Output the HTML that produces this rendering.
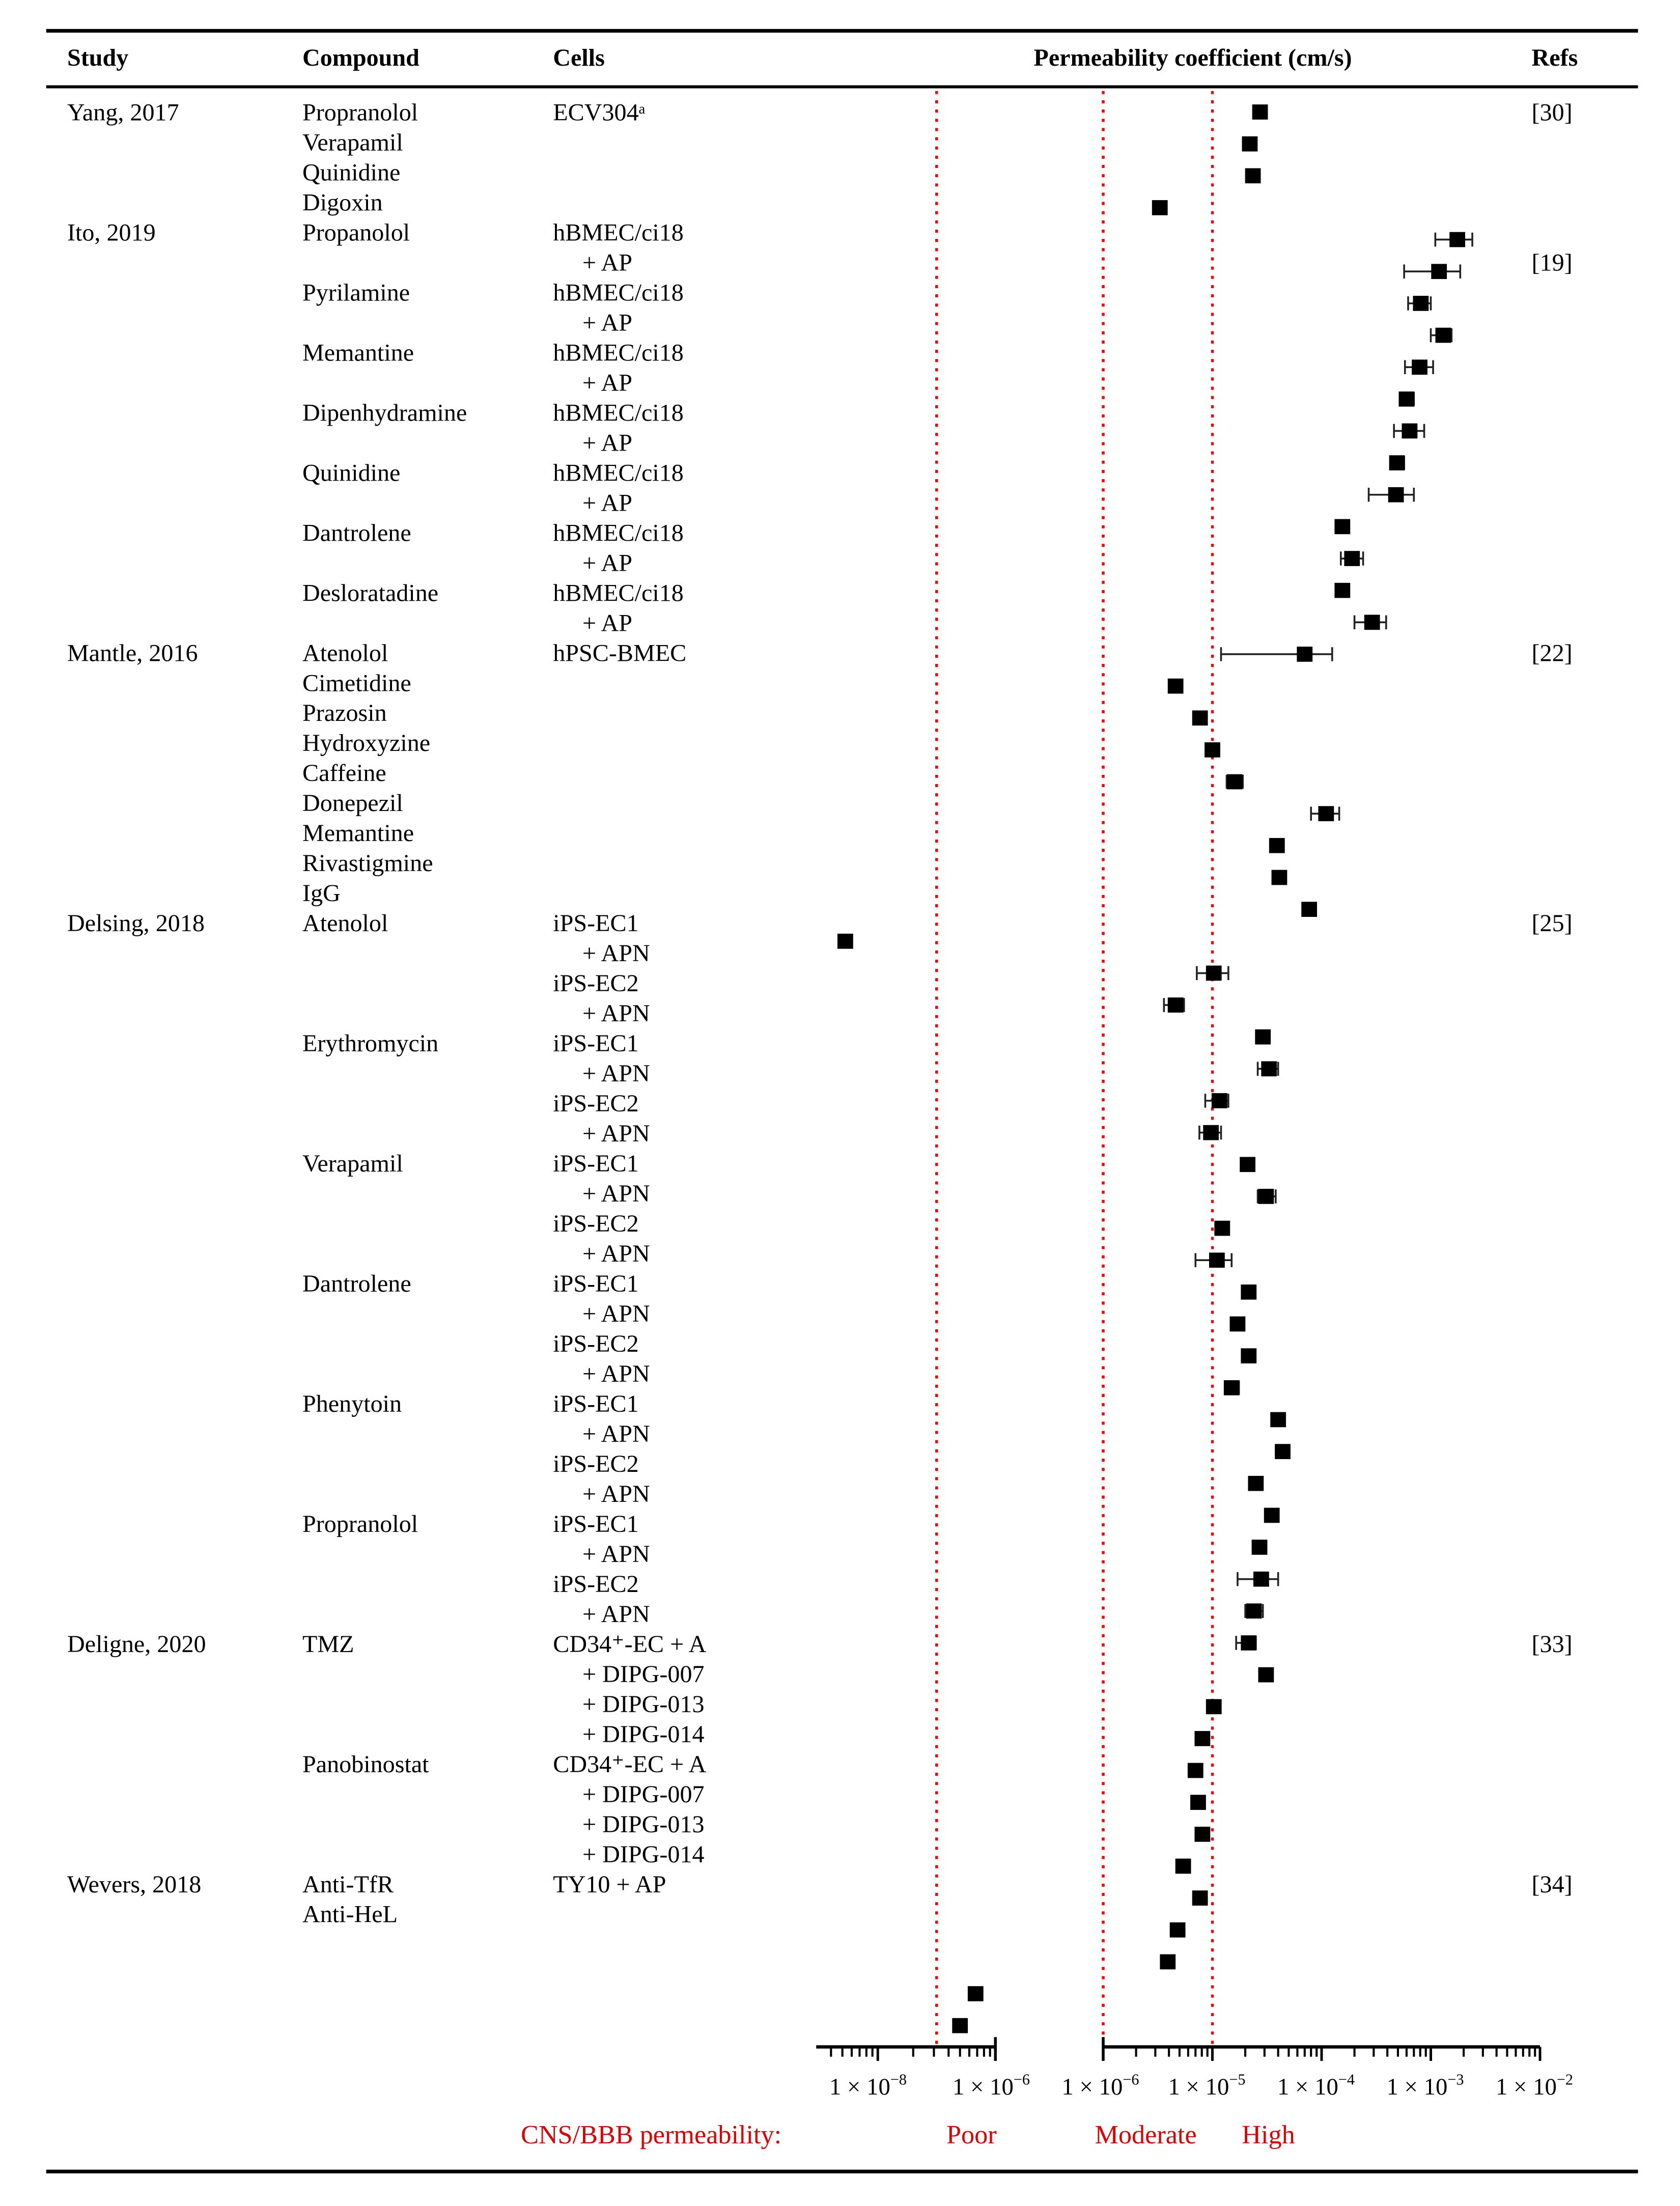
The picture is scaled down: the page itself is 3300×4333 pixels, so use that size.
<!DOCTYPE html>
<html><head><meta charset="utf-8"><style>
html,body{margin:0;padding:0;background:#fff;}
svg{display:block;}
text{font-family:"Liberation Serif",serif;}
</style></head><body>
<svg id="chart" width="3300" height="4333" viewBox="0 0 1200 1575.64" xmlns="http://www.w3.org/2000/svg">
<rect x="0" y="0" width="1200" height="1576" fill="#fff"/>
<line x1="33" y1="22" x2="1170" y2="22" stroke="#000" stroke-width="2.6"/>
<line x1="33" y1="62" x2="1170" y2="62" stroke="#000" stroke-width="2.2"/>
<line x1="33" y1="1551" x2="1170" y2="1551" stroke="#000" stroke-width="2.6"/>
<g font-size="17.5" font-weight="bold" fill="#000">
<text x="48" y="47">Study</text>
<text x="216" y="47">Compound</text>
<text x="395" y="47">Cells</text>
<text x="852" y="47" text-anchor="middle">Permeability coefficient (cm/s)</text>
<text x="1094" y="47">Refs</text>
</g>
<g id="rows" font-size="17.5" fill="#000"></g>
<g id="refs" font-size="17.5" fill="#000"></g>
<g id="thresholds"></g>
<g id="axes"></g>
<g id="marks"></g>
<g font-size="19" fill="#e00000">
<text x="372" y="1531">CNS/BBB permeability:</text>
<text x="676" y="1531">Poor</text>
<text x="782" y="1531">Moderate</text>
<text x="887" y="1531">High</text>
</g>
</svg>
<script>
// ---- table data ----
const studies = [[0,"Yang, 2017"],[4,"Ito, 2019"],[18,"Mantle, 2016"],[27,"Delsing, 2018"],[51,"Deligne, 2020"],[59,"Wevers, 2018"]];
const refsList = [[0,"[30]"],[5,"[19]"],[18,"[22]"],[27,"[25]"],[51,"[33]"],[59,"[34]"]];
const compounds = [[0,"Propranolol"],[1,"Verapamil"],[2,"Quinidine"],[3,"Digoxin"],[4,"Propanolol"],[6,"Pyrilamine"],[8,"Memantine"],[10,"Dipenhydramine"],[12,"Quinidine"],[14,"Dantrolene"],[16,"Desloratadine"],[18,"Atenolol"],[19,"Cimetidine"],[20,"Prazosin"],[21,"Hydroxyzine"],[22,"Caffeine"],[23,"Donepezil"],[24,"Memantine"],[25,"Rivastigmine"],[26,"IgG"],[27,"Atenolol"],[31,"Erythromycin"],[35,"Verapamil"],[39,"Dantrolene"],[43,"Phenytoin"],[47,"Propranolol"],[51,"TMZ"],[55,"Panobinostat"],[59,"Anti-TfR"],[60,"Anti-HeL"]];
const cells = [[0,"ECV304ᵃ"]];
for(let i=4;i<18;i+=2){cells.push([i,"hBMEC/ci18"]);cells.push([i+1,"+ AP"]);}
cells.push([18,"hPSC-BMEC"]);
for(let i=27;i<51;i+=4){cells.push([i,"iPS-EC1"]);cells.push([i+1,"+ APN"]);cells.push([i+2,"iPS-EC2"]);cells.push([i+3,"+ APN"]);}
for(const s of [51,55]){cells.push([s,"CD34⁺-EC + A"]);cells.push([s+1,"+ DIPG-007"]);cells.push([s+2,"+ DIPG-013"]);cells.push([s+3,"+ DIPG-014"]);}
cells.push([59,"TY10 + AP"]);

// ---- chart data (cm/s) ----
const permeability = [2.73e-5,2.2e-5,2.35e-5,3.3e-6,
 1.75e-3,1.19e-3,8.1e-4,1.3e-3,7.9e-4,6.0e-4,6.4e-4,4.9e-4,4.8e-4,1.55e-4,1.9e-4,1.55e-4,2.9e-4,
 7.0e-5,4.6e-6,7.7e-6,1.0e-5,1.6e-5,1.1e-4,3.9e-5,4.1e-5,7.7e-5,
 2.8e-9,1.03e-5,4.6e-6,2.9e-5,3.3e-5,1.16e-5,9.7e-6,2.1e-5,3.1e-5,1.23e-5,1.1e-5,2.15e-5,1.7e-5,2.15e-5,1.5e-5,4.0e-5,4.4e-5,2.5e-5,3.5e-5,2.7e-5,2.8e-5,2.4e-5,
 2.15e-5,3.1e-5,1.03e-5,8.1e-6,7.0e-6,7.4e-6,8.1e-6,5.4e-6,7.7e-6,4.8e-6,3.9e-6,
 4.6e-7,2.5e-7];
const errLow = [null,null,null,null,
 1.1e-3,5.7e-4,6.2e-4,1.0e-3,5.8e-4,5.2e-4,4.6e-4,4.3e-4,2.7e-4,1.35e-4,1.5e-4,null,2.0e-4,
 1.2e-5,null,null,null,1.35e-5,8.0e-5,null,null,null,
 null,7.2e-6,3.6e-6,null,2.6e-5,8.6e-6,7.6e-6,null,2.6e-5,null,7.0e-6,null,null,null,1.3e-5,null,null,null,null,null,1.7e-5,2.0e-5,
 1.65e-5,null,null,null,null,null,null,null,null,null,null,
 null,null];
const errHigh = [null,null,null,null,
 2.4e-3,1.86e-3,1.0e-3,1.55e-3,1.05e-3,7.0e-4,8.7e-4,5.7e-4,7.0e-4,1.75e-4,2.4e-4,null,3.9e-4,
 1.25e-4,null,null,null,1.9e-5,1.45e-4,null,null,null,
 null,1.4e-5,5.5e-6,null,4.0e-5,1.4e-5,1.2e-5,null,3.8e-5,null,1.5e-5,null,null,null,1.75e-5,null,null,null,null,null,4.0e-5,2.9e-5,
 2.5e-5,null,null,null,null,null,null,null,null,null,null,
 null,null];
const rightTickLabels = ["1 × 10","1 × 10","1 × 10","1 × 10","1 × 10"];
const rightTickExps = [-6,-5,-4,-3,-2];
const leftTickLabels = ["1 × 10","1 × 10"];
const leftTickExps = [-8,-6];
const thresholdsRight = [1e-6,1e-5];
const leftBreak = 1e-6; // values below shown on left segment

// ---- scales ----
const R0 = 788, RDEC = 78;
function xRight(v){return R0 + (Math.log10(v)+6)*RDEC;}
const L0 = 627, LDEC = 42; // left segment: 1e-8 at 627, 1e-6 at 711
function xLeft(v){return L0 + (Math.log10(v)+8)*LDEC;}
function xOf(v){return v < leftBreak ? xLeft(v) : xRight(v);}
function rowY(i){return 80 + 21.45*i;}
function markY(i){return 80 + 22.78*i;}

const NS="http://www.w3.org/2000/svg";
function mk(tag, attrs, parent){const e=document.createElementNS(NS,tag);for(const k in attrs)e.setAttribute(k,attrs[k]);parent.appendChild(e);return e;}

const rowsG=document.getElementById('rows');
for(const [i,t] of studies){const e=mk('text',{x:48,y:rowY(i)+6},rowsG);e.textContent=t;

}
for(const [i,t] of compounds){const e=mk('text',{x:216,y:rowY(i)+6},rowsG);e.textContent=t;

}
for(const [i,t] of cells){const ind=t.startsWith('+')?416:395;const e=mk('text',{x:ind,y:rowY(i)+6},rowsG);e.textContent=t;

}
const refsG=document.getElementById('refs');
for(const [i,t] of refsList){const e=mk('text',{x:1094,y:rowY(i)+6},refsG);e.textContent=t;

}

// thresholds
const thG=document.getElementById('thresholds');
let e=mk('line',{x1:669,y1:65,x2:669,y2:1462,stroke:'#ff0000','stroke-width':2,'stroke-dasharray':'2.2 4.4'},thG);


for(const v of thresholdsRight){const t=mk('line',{x1:xRight(v),y1:65,x2:xRight(v),y2:1462,stroke:'#ff0000','stroke-width':2,'stroke-dasharray':'2.2 4.4'},thG);

}

// axes
const axG=document.getElementById('axes');
const AY=1462;
e=mk('line',{x1:R0,y1:AY,x2:xRight(1e-2),y2:AY,stroke:'#000','stroke-width':2.4},axG);


mk('line',{x1:R0,y1:1455,x2:R0,y2:1472,stroke:'#000','stroke-width':2},axG);
for(let d=-6;d<-2;d++){for(let m=2;m<10;m++){const x=xRight(m*10**d);mk('line',{x1:x,y1:AY,x2:x,y2:AY+7,stroke:'#000','stroke-width':1.5},axG);}}
for(const ex of rightTickExps){const x=xRight(10**ex);mk('line',{x1:x,y1:AY,x2:x,y2:AY+10,stroke:'#000','stroke-width':1.8},axG);}
e=mk('line',{x1:583,y1:AY,x2:711,y2:AY,stroke:'#000','stroke-width':2.4},axG);


mk('line',{x1:711,y1:1455,x2:711,y2:1472,stroke:'#000','stroke-width':2},axG);
const LD=84;
for(let m=2;m<10;m++){const x=627+Math.log10(m)*LD;mk('line',{x1:x,y1:AY,x2:x,y2:AY+7,stroke:'#000','stroke-width':1.5},axG);
const x2=543+Math.log10(m)*LD; if(x2>585) mk('line',{x1:x2,y1:AY,x2:x2,y2:AY+7,stroke:'#000','stroke-width':1.5},axG);}
mk('line',{x1:627,y1:AY,x2:627,y2:AY+10,stroke:'#000','stroke-width':1.8},axG);
function tickLabel(x,lab,ex){const t=mk('text',{x:x,y:1496,'font-size':17,'text-anchor':'middle',fill:'#000'},axG);
t.textContent=lab;const s=mk('tspan',{dy:-7,'font-size':11},t);s.textContent=(ex<0?'−':'')+Math.abs(ex);

}
rightTickExps.forEach((ex,k)=>tickLabel(xRight(10**ex)-4+(k===0?2:0),rightTickLabels[k],ex));
tickLabel(620,leftTickLabels[0],leftTickExps[0]);
tickLabel(708,leftTickLabels[1],leftTickExps[1]);

// marks
const mG=document.getElementById('marks');
permeability.forEach((v,i)=>{
  const y=markY(i), x=xOf(v);
  if(errLow[i]!=null && errHigh[i]!=null){
    const xl=xOf(errLow[i]), xh=xOf(errHigh[i]);
    const eb=mk('g',{stroke:'#222','stroke-width':1.3},mG);
    
    
    mk('line',{x1:xl,y1:y,x2:xh,y2:y},eb);
    mk('line',{x1:xl,y1:y-5,x2:xl,y2:y+5},eb);
    mk('line',{x1:xh,y1:y-5,x2:xh,y2:y+5},eb);
  }
  const r=mk('rect',{x:x-5.6,y:y-5.4,width:11.2,height:10.8,fill:'#000'},mG);
  
  
});
</script>
</body></html>
